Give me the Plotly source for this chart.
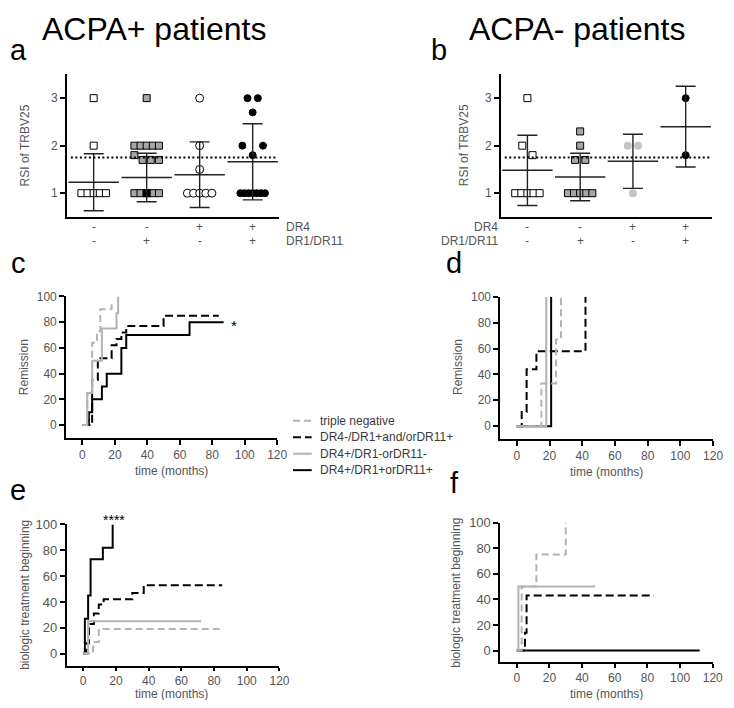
import plotly.graph_objects as go

PAGE_W, PAGE_H = 734, 708
BODY = 8  # default page margin around the plot div
W, H = PAGE_W - 2 * BODY, PAGE_H - 2 * BODY

# ---------------- data ----------------
series_names = ["triple negative", "DR4-/DR1+and/orDR11+", "DR4+/DR1-orDR11-", "DR4+/DR1+orDR11+"]
dr4_signs = ["-", "-", "+", "+"]
dr1_signs = ["-", "+", "-", "+"]
rsi_threshold = 1.75

# panel a: ACPA+ RSI of TRBV25
pos_g1 = [3, 2, 1, 1, 1, 1, 1]
pos_g2 = [3, 2, 2, 2, 2, 2, 1.8, 1.7, 1.7, 1.7, 1, 1, 1, 1, 1]
pos_g2_dark = [1]
pos_g3 = [3, 2, 1.5, 1, 1, 1, 1, 1]
pos_g4 = [3, 3, 2.7, 2, 1.8, 2, 1, 1, 1, 1, 1, 1, 1]
pos_mean = [1.23, 1.33, 1.39, 1.66]
pos_sd = [0.60, 0.51, 0.69, 0.80]

# panel b: ACPA- RSI of TRBV25
neg_g1 = [3, 2, 1.8, 1, 1, 1, 1, 1]
neg_g2 = [2.3, 2, 1.7, 1.7, 1, 1, 1, 1, 1]
neg_g3 = [2, 2, 1]
neg_g4 = [3, 1.8]
neg_mean = [1.48, 1.34, 1.67, 2.40]
neg_sd = [0.74, 0.50, 0.57, 0.85]

# panel c: remission, ACPA+
c_triple_t = [0, 3, 6, 9, 11, 18]
c_triple_v = [0, 25, 64, 73, 90, 97]
c_dr4neg_t = [0, 6, 9.5, 10.5, 18, 21, 24, 27, 50, 84]
c_dr4neg_v = [0, 35, 50, 52, 62, 67, 72, 77, 85, 85]
c_dr4pn_t = [0, 3, 6, 12, 21, 22]
c_dr4pn_v = [0, 25, 50, 75, 87, 100]
c_dr4pp_t = [0, 4, 6, 12, 15, 24, 27, 66, 87]
c_dr4pp_v = [0, 10, 20, 30, 40, 60, 70, 80, 80]

# panel d: remission, ACPA-
d_triple_t = [0, 15, 24, 27]
d_triple_v = [0, 33, 67, 100]
d_dr4neg_t = [0, 3, 6, 12, 42]
d_dr4neg_v = [0, 11, 44, 58, 100]
d_dr4pn_t = [0, 18]
d_dr4pn_v = [0, 100]
d_dr4pp_t = [0, 21]
d_dr4pp_v = [0, 100]

# panel e: biologic treatment, ACPA+
e_triple_t = [0, 6, 9.5, 85]
e_triple_v = [0, 9, 19, 19]
e_dr4neg_t = [0, 2, 3.5, 6.5, 9.5, 12.5, 30, 37, 85]
e_dr4neg_v = [0, 8, 23, 31, 38, 42, 47, 53, 53]
e_dr4pn_t = [0, 3, 72]
e_dr4pn_v = [0, 25, 25]
e_dr4pp_t = [0, 1, 3, 4.5, 12, 18]
e_dr4pp_v = [0, 27, 45, 73, 82, 100]

# panel f: biologic treatment, ACPA-
f_triple_t = [0, 3, 12, 30]
f_triple_v = [0, 50, 75, 100]
f_dr4neg_t = [0, 5, 6, 84]
f_dr4neg_v = [0, 14, 43, 43]
f_dr4pn_t = [0, 1, 48]
f_dr4pn_v = [0, 50, 50]
f_dr4pp_t = [0, 112]
f_dr4pp_v = [0, 0]

km_ticks = [0, 20, 40, 60, 80, 100, 120]
pct_ticks = [0, 20, 40, 60, 80, 100]
rsi_ticks = [1, 2, 3]

# ---------------- helpers ----------------
FONT = "Liberation Sans, Arial, sans-serif"
TICKCOL = "#555555"
GRAY = "#b3b3b3"


def px(x):
    return (x - BODY) / W


def py(y):
    return 1 - (y - BODY) / H


def swarm(values, px_per_unit=54.0, max_step=10.5, max_width=25.0, tol=0.25):
    uniq = sorted(set(values))
    counts = {u: values.count(u) for u in uniq}
    parent = {u: u for u in uniq}

    def find(u):
        while parent[u] != u:
            u = parent[u]
        return u

    for u in uniq:
        if counts[u] == 1:
            others = [o for o in uniq if o != u and abs(o - u) <= tol + 1e-9]
            if others:
                nb = min(others, key=lambda o: abs(o - u))
                parent[find(u)] = find(nb)
    clusters = {}
    for i, v in enumerate(values):
        clusters.setdefault(find(v), []).append(i)
    offs = [0.0] * len(values)
    for idxs in clusters.values():
        n = len(idxs)
        if n > 1:
            step = min(max_step, max_width / (n - 1))
            for k, i in enumerate(idxs):
                offs[i] = (k - (n - 1) / 2) * step / px_per_unit
    return offs


fig = go.Figure()


def dots(vals, gi, xa, ya, symbol, fill, line_col, size, lw=1):
    offs = swarm(vals)
    fig.add_trace(go.Scatter(
        x=[gi + o for o in offs], y=vals, mode="markers", xaxis=xa, yaxis=ya,
        showlegend=False, hoverinfo="skip",
        marker=dict(symbol=symbol, color=fill, size=size,
                    line=dict(color=line_col, width=lw))))


def mean_sd(means, sds, xa, ya):
    fig.add_trace(go.Scatter(
        x=[1, 2, 3, 4], y=means, mode="markers", xaxis=xa, yaxis=ya,
        showlegend=False, hoverinfo="skip",
        marker=dict(symbol="line-ew", size=36, color="#222222",
                    line=dict(color="#222222", width=1.5)),
        error_y=dict(type="data", array=sds, visible=True, color="#222222",
                     thickness=1.4, width=10)))


# panel a
dots(pos_g1, 1, "x", "y", "square", "white", "black", 7)
dots(pos_g2, 2, "x", "y", "square", "#a6a6a6", "black", 7)
dots(pos_g2_dark, 2, "x", "y", "square", "black", "black", 7)
dots(pos_g3, 3, "x", "y", "circle", "white", "black", 8)
dots(pos_g4, 4, "x", "y", "circle", "black", "black", 7)
mean_sd(pos_mean, pos_sd, "x", "y")

# panel b
dots(neg_g1, 1, "x2", "y2", "square", "white", "black", 7)
dots(neg_g2, 2, "x2", "y2", "square", "#a6a6a6", "black", 7)
dots(neg_g3, 3, "x2", "y2", "circle", "#c4c4c4", "#c4c4c4", 8, 0)
dots(neg_g4, 4, "x2", "y2", "circle", "black", "black", 7)
mean_sd(neg_mean, neg_sd, "x2", "y2")

styles = {
    "triple": dict(color=GRAY, width=2, dash="7px,4px"),
    "dr4neg": dict(color="black", width=2, dash="8px,4px"),
    "dr4pn": dict(color=GRAY, width=2),
    "dr4pp": dict(color="black", width=2),
}


def km(t, v, key, xa, ya):
    fig.add_trace(go.Scatter(x=t, y=v, mode="lines", line_shape="hv",
                             line=styles[key], xaxis=xa, yaxis=ya,
                             showlegend=False, hoverinfo="skip"))


for xa, ya, data in [
    ("x3", "y3", [(c_dr4pp_t, c_dr4pp_v, "dr4pp"), (c_dr4neg_t, c_dr4neg_v, "dr4neg"),
                  (c_dr4pn_t, c_dr4pn_v, "dr4pn"), (c_triple_t, c_triple_v, "triple")]),
    ("x4", "y4", [(d_dr4pp_t, d_dr4pp_v, "dr4pp"), (d_dr4neg_t, d_dr4neg_v, "dr4neg"),
                  (d_dr4pn_t, d_dr4pn_v, "dr4pn"), (d_triple_t, d_triple_v, "triple")]),
    ("x5", "y5", [(e_dr4pp_t, e_dr4pp_v, "dr4pp"), (e_dr4neg_t, e_dr4neg_v, "dr4neg"),
                  (e_dr4pn_t, e_dr4pn_v, "dr4pn"), (e_triple_t, e_triple_v, "triple")]),
    ("x6", "y6", [(f_dr4pp_t, f_dr4pp_v, "dr4pp"), (f_dr4neg_t, f_dr4neg_v, "dr4neg"),
                  (f_dr4pn_t, f_dr4pn_v, "dr4pn"), (f_triple_t, f_triple_v, "triple")]),
]:
    for t, v, key in data:
        km(t, v, key, xa, ya)


def axis(domain_px, rng, ticks=None, anchor=None, fs=12, showticks=True, horizontal=True, tl=5):
    d = dict(
        domain=[px(domain_px[0]), px(domain_px[1])] if horizontal else [py(domain_px[1]), py(domain_px[0])],
        range=rng, showline=True, linecolor="black", linewidth=2, mirror=False,
        showgrid=False, zeroline=False, anchor=anchor, fixedrange=True,
        tickfont=dict(family=FONT, size=fs, color=TICKCOL),
    )
    if showticks and ticks is not None:
        d.update(tickmode="array", tickvals=ticks, ticks="outside", ticklen=tl,
                 tickwidth=2, tickcolor="black")
    else:
        d.update(showticklabels=False, ticks="")
    return d


layout = dict(
    width=W, height=H, margin=dict(l=0, r=0, t=0, b=0),
    paper_bgcolor="white", plot_bgcolor="white", showlegend=False,
    font=dict(family=FONT, color="#333333"),
    xaxis=axis((68, 283), [0.5, 4.5], anchor="y", showticks=False),
    yaxis=axis((68, 212), [0.5, 3.5], rsi_ticks, anchor="x", horizontal=False),
    xaxis2=axis((508, 722), [0.5, 4.5], anchor="y2", showticks=False),
    yaxis2=axis((68, 212), [0.5, 3.5], rsi_ticks, anchor="x2", horizontal=False),
    xaxis3=axis((67, 281), [-10, 120], km_ticks, anchor="y3"),
    yaxis3=axis((292.3, 435.3), [-10, 100], pct_ticks, anchor="x3", horizontal=False),
    xaxis4=axis((507.4, 723), [-10, 120], km_ticks, anchor="y4"),
    yaxis4=axis((292.7, 436.4), [-10, 100], pct_ticks, anchor="x4", horizontal=False),
    xaxis5=axis((67.7, 283.3), [-10, 120], km_ticks, anchor="y5", fs=12, tl=3),
    yaxis5=axis((522.7, 665.5), [-9.5, 100], pct_ticks, anchor="x5", horizontal=False, fs=13),
    xaxis6=axis((507.4, 722.7), [-10, 120], km_ticks, anchor="y6", fs=12, tl=4),
    yaxis6=axis((520.7, 661.7), [-9, 100], pct_ticks, anchor="x6", horizontal=False, fs=13),
)
fig.update_layout(**layout)

# threshold dotted lines
for xr, yr in [("x", "y"), ("x2", "y2")]:
    fig.add_shape(type="line", xref=xr, yref=yr, x0=0.57, x1=4.45,
                  y0=rsi_threshold, y1=rsi_threshold,
                  line=dict(color="black", width=2, dash="2px,2.5px"))

ann = []


def text(x, y, s, size=12, color="#333333", xanchor="center", yanchor="middle", angle=0, xref="paper", yref="paper"):
    ann.append(dict(x=x, y=y, text=s, showarrow=False, xref=xref, yref=yref,
                    xanchor=xanchor, yanchor=yanchor, textangle=angle,
                    font=dict(family=FONT, size=size, color=color)))


# titles and panel letters
text(px(156), py(22), "ACPA+ patients", size=32, color="black")
text(px(585), py(22), "ACPA- patients", size=32, color="black")
for letter, lx, base in [("a", 8, 57), ("b", 435, 57), ("c", 9, 273),
                         ("d", 450, 273), ("e", 8, 502), ("f", 454, 495)]:
    text(px(lx), py(base - 14), letter, size=29, color="black", xanchor="left")

# y axis titles
text(px(25), py(140), "RSI of TRBV25", size=12, color=TICKCOL, angle=-90)
text(px(470), py(140), "RSI of TRBV25", size=12, color=TICKCOL, angle=-90)
text(px(25), py(364), "Remission", size=12, color=TICKCOL, angle=-90)
text(px(465), py(364), "Remission", size=12, color=TICKCOL, angle=-90)
text(px(25), py(594), "biologic treatment beginning", size=12, color=TICKCOL, angle=-90)
text(px(462), py(592), "biologic treatment beginning", size=12, color=TICKCOL, angle=-90)
# x axis titles
text(px(174), py(469), "time (months)", size=12, color=TICKCOL)
text(px(615), py(470), "time (months)", size=12, color=TICKCOL)
text(px(174), py(694), "time (months)", size=12, color=TICKCOL)
text(px(615), py(694), "time (months)", size=12, color=TICKCOL)

# genotype rows below a and b
for i in range(4):
    text(i + 1, py(222), dr4_signs[i], xref="x", color=TICKCOL)
    text(i + 1, py(236), dr1_signs[i], xref="x", color=TICKCOL)
    text(i + 1, py(222), dr4_signs[i], xref="x2", color=TICKCOL)
    text(i + 1, py(236), dr1_signs[i], xref="x2", color=TICKCOL)
text(px(288), py(222), "DR4", xanchor="left", color=TICKCOL)
text(px(288), py(236), "DR1/DR11", xanchor="left", color=TICKCOL)
text(px(507), py(222), "DR4", xanchor="right", color=TICKCOL)
text(px(507), py(236), "DR1/DR11", xanchor="right", color=TICKCOL)

# significance marks
text(px(237), py(322), "*", size=15, color="black")
text(px(116), py(518), "****", size=14, color="black")

# manual legend
leg_keys = ["triple", "dr4neg", "dr4pn", "dr4pp"]
for k, (name, key) in enumerate(zip(series_names, leg_keys)):
    yy = 418 + k * 16.6
    st = styles[key]
    fig.add_shape(type="line", xref="paper", yref="paper", x0=px(297), x1=px(316),
                  y0=py(yy), y1=py(yy), line=dict(color=st["color"], width=2,
                                                  dash=st.get("dash", "solid")))
    text(px(322), py(yy), name, xanchor="left", color="#3a3a3a")

fig.update_layout(annotations=ann)
fig.write_html("out.html")
